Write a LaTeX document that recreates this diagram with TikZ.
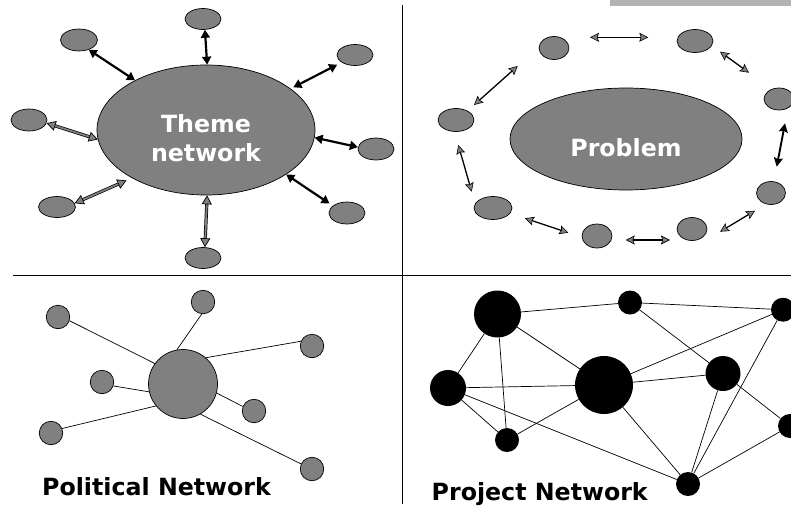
\documentclass[tikz,border=0pt]{standalone}
\usepackage{fontspec}
\newfontfamily\labfont{DejaVu Sans}
\usetikzlibrary{shapes.geometric,arrows.meta}
\definecolor{gfill}{RGB}{128,128,128}
\definecolor{barc}{RGB}{178,178,178}
\begin{document}
\begin{tikzpicture}[x=1pt,y=-1pt,
  sell/.style={ellipse, draw=black, line width=0.7pt, fill=gfill, inner sep=0pt},
  pcirc/.style={circle, draw=black, line width=0.7pt, fill=gfill, inner sep=0pt, minimum size=23.5pt},
  bcirc/.style={circle, fill=black, inner sep=0pt},
  lbl/.style={font=\labfont\bfseries\fontsize{23.7}{29}\selectfont, inner sep=0pt},
  wlbl/.style={lbl, text=white, align=center},
  blkarr/.style={line width=2.2pt, {Triangle[length=8pt,width=9pt]}-{Triangle[length=8pt,width=9pt]}},
  grarr/.style={draw=black, line width=0.7pt, double=gfill, double distance=1.8pt,
     {Triangle[length=9pt,width=10pt,fill=gfill,line width=0.7pt]}-{Triangle[length=9pt,width=10pt,fill=gfill,line width=0.7pt]}},
  thinarr/.style={line width=1.3pt, {Stealth[length=9pt,width=9pt,inset=1.5pt,fill=gfill,line width=0.6pt]}-{Stealth[length=9pt,width=9pt,inset=1.5pt,fill=gfill,line width=0.6pt]}},
  thickarr/.style={line width=1.9pt, {Stealth[length=9pt,width=9pt,inset=1.5pt]}-{Stealth[length=9pt,width=9pt,inset=1.5pt]}},
  edge/.style={line width=0.7pt},
  divider/.style={line width=1.5pt}
]
\useasboundingbox (0,0) rectangle (791,506);
\clip (0,0) rectangle (791,506);

% top bar and dividers
\fill[barc] (610,0) rectangle (791,6);
\draw[divider] (12.7,275.7) -- (791,275.7);
\draw[divider] (402.5,5) -- (402.5,504);

% ---------- Theme network ----------
\node[sell, minimum width=218pt, minimum height=130pt] (theme) at (206,130) {};
\node[wlbl] (themetxt) at (206,138.5) {Theme\\network};
\node[sell, minimum width=36pt, minimum height=21pt] (s1) at (203,19) {};
\node[sell, minimum width=37pt, minimum height=22pt] (s2) at (79,40) {};
\node[sell, minimum width=36pt, minimum height=21pt] (s3) at (355,55) {};
\node[sell, minimum width=36pt, minimum height=22pt] (s4) at (29,120) {};
\node[sell, minimum width=36pt, minimum height=22pt] (s5) at (376,149) {};
\node[sell, minimum width=37pt, minimum height=21pt] (s6) at (57,207) {};
\node[sell, minimum width=36pt, minimum height=22pt] (s7) at (347,213) {};
\node[sell, minimum width=36pt, minimum height=21pt] (s8) at (203,258) {};

\draw[blkarr] (s1.-80) -- (theme.89);
\draw[blkarr] (s2.-45) -- (theme.145);
\draw[blkarr, shorten <=5pt, shorten >=3pt] (s3.209) -- (theme.26);
\draw[grarr] (s4.-10) -- (theme.185);
\draw[blkarr] (theme.-4) -- (s5.174);
\draw[grarr, shorten >=6pt] (s6.12) -- (theme.213);
\draw[blkarr, shorten >=4pt] (theme.-29) -- (s7.153);
\draw[grarr] (theme.-89) -- (s8.80);

% ---------- Problem network ----------
\node[sell, minimum width=232pt, minimum height=102pt] (prob) at (626,139) {};
\node[wlbl] (probtxt) at (626,147.7) {Problem};
\node[sell, minimum width=30pt, minimum height=23pt] (ta) at (554,48) {};
\node[sell, minimum width=36pt, minimum height=23pt] (tb) at (695,41) {};
\node[sell, minimum width=30pt, minimum height=22pt] (tc) at (779,99) {};
\node[sell, minimum width=36pt, minimum height=23pt] (td) at (456,120) {};
\node[sell, minimum width=29pt, minimum height=23pt] (te) at (771,193) {};
\node[sell, minimum width=38pt, minimum height=23pt] (tf) at (493,208) {};
\node[sell, minimum width=30pt, minimum height=23pt] (tg) at (692,229) {};
\node[sell, minimum width=30pt, minimum height=24pt] (th) at (597,236) {};

\coordinate (ab1) at (590,37.3);  \coordinate (ab2) at (648.3,37.3);
\coordinate (bc1) at (720,51.7);  \coordinate (bc2) at (749,72.7);
\coordinate (ad1) at (517.7,66);  \coordinate (ad2) at (474,105);
\coordinate (ce1) at (785,123.3); \coordinate (ce2) at (776.7,166.7);
\coordinate (df1) at (458.3,145); \coordinate (df2) at (471.7,191.7);
\coordinate (fh1) at (525,218.3); \coordinate (fh2) at (568.3,232.7);
\coordinate (hg1) at (625.7,240); \coordinate (hg2) at (670,240);
\coordinate (ge1) at (720,231.7); \coordinate (ge2) at (755,210.7);

\draw[thinarr] (ab1) -- (ab2);
\draw[thinarr] (bc1) -- (bc2);
\draw[thinarr] (ad1) -- (ad2);
\draw[thickarr] (ce1) -- (ce2);
\draw[thinarr] (df1) -- (df2);
\draw[thinarr] (fh1) -- (fh2);
\draw[thinarr] (hg1) -- (hg2);
\draw[thinarr] (ge1) -- (ge2);

% ---------- Political network ----------
\node[pcirc, minimum size=69pt] (c0) at (183,384) {};
\node[pcirc] (p1) at (58,317) {};
\node[pcirc] (p2) at (203,302) {};
\node[pcirc] (p3) at (312,346) {};
\node[pcirc] (p4) at (102,382) {};
\node[pcirc] (p5) at (254,411) {};
\node[pcirc] (p6) at (51,433) {};
\node[pcirc] (p7) at (312,469) {};
\draw[edge] (p1.-18) -- (c0.144);
\draw[edge] (p2.264) -- (c0.100);
\draw[edge] (p3.157) -- (c0.49);
\draw[edge] (p4.-19.5) -- (c0.193.5);
\draw[edge] (p5.158) -- (c0.-15.4);
\draw[edge] (p6.22) -- (c0.219);
\draw[edge] (p7.155.5) -- (c0.-60.7);
\node[lbl, anchor=base west] (poltxt) at (42,495) {Political Network};

% ---------- Project network ----------
\node[bcirc, minimum size=47pt] (nA) at (497.5,314) {};
\node[bcirc, minimum size=24pt] (nB) at (630,302.5) {};
\node[bcirc, minimum size=24pt] (nC) at (783,309.7) {};
\node[bcirc, minimum size=36pt] (nD) at (448,388) {};
\node[bcirc, minimum size=58pt] (nE) at (604,385) {};
\node[bcirc, minimum size=35pt] (nF) at (723,373.5) {};
\node[bcirc, minimum size=24pt] (nG) at (507,440) {};
\node[bcirc, minimum size=24pt] (nH) at (790,426) {};
\node[bcirc, minimum size=24pt] (nI) at (688,484) {};
\draw[edge] (nA) -- (nB);
\draw[edge] (nB) -- (nC);
\draw[edge] (nA) -- (nD);
\draw[edge] (nA) -- (nG);
\draw[edge] (nA) -- (nE);
\draw[edge] (nB) -- (nF);
\draw[edge] (nD) -- (nE);
\draw[edge] (nD) -- (nG);
\draw[edge] (nD) -- (nI);
\draw[edge] (nG) -- (nE);
\draw[edge] (nE) -- (nC);
\draw[edge] (nE) -- (nF);
\draw[edge] (nE) -- (nI);
\draw[edge] (nF) -- (nH);
\draw[edge] (nF) -- (nI);
\draw[edge] (nC) -- (nI);
\draw[edge] (nH) -- (nI);
\node[lbl, anchor=base west] (projtxt) at (431.5,500) {Project Network};
\end{tikzpicture}
\end{document}
